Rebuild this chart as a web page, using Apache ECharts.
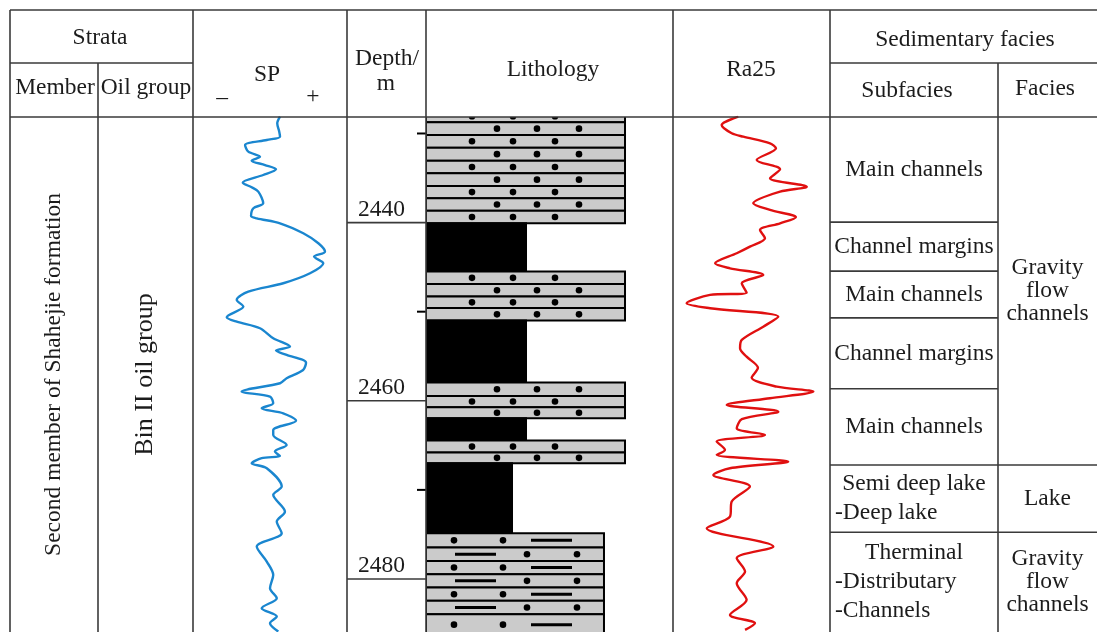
<!DOCTYPE html>
<html><head><meta charset="utf-8">
<script src="https://cdn.jsdelivr.net/npm/echarts@6/dist/echarts.min.js"></script>
<style>html,body{margin:0;padding:0;background:#fff}#c{width:1097px;height:632px}</style>
</head><body><div id="c"></div>
<script>
// ---------------- data ----------------
const depthMin = 2428.15, depthMax = 2485.95;
const depthLabels = [2440, 2460, 2480];
const depthMinorTicks = [2430, 2450, 2470];

const spDepth = [2428.12, 2428.86, 2429.80, 2430.36, 2430.73, 2431.29, 2432.04, 2432.60, 2433.05, 2433.54, 2434.02, 2434.66, 2435.52, 2436.04, 2436.53, 2437.83, 2438.39, 2439.26, 2439.52, 2440.08, 2441.20, 2442.32, 2443.26, 2443.82, 2444.57, 2445.69, 2446.81, 2447.75, 2448.68, 2449.43, 2450.62, 2451.12, 2451.86, 2452.98, 2453.92, 2454.37, 2454.85, 2455.72, 2456.54, 2457.47, 2458.03, 2458.97, 2459.53, 2460.27, 2460.83, 2461.40, 2462.23, 2463.27, 2463.83, 2464.95, 2465.70, 2466.19, 2466.44, 2467.01, 2467.57, 2469.63, 2470.56, 2472.44, 2473.56, 2474.86, 2476.36, 2478.05, 2479.54, 2481.03, 2482.15, 2483.28, 2484.22, 2484.96, 2485.90];
const spValue = [56.5, 54.7, 56.0, 56.5, 47.9, 33.8, 35.9, 43.5, 38.1, 46.8, 53.9, 45.6, 32.3, 38.1, 42.4, 45.6, 39.2, 37.7, 41.4, 56.5, 71.6, 81.4, 85.7, 78.6, 84.6, 76.0, 58.6, 35.9, 28.4, 32.7, 21.9, 28.4, 43.5, 52.1, 63.0, 53.9, 60.8, 73.4, 71.5, 60.8, 56.5, 31.6, 50.0, 52.1, 44.6, 58.6, 66.9, 52.1, 52.1, 60.8, 53.2, 56.5, 44.6, 38.1, 47.9, 57.6, 52.1, 59.7, 54.4, 57.6, 41.4, 47.9, 52.1, 50.0, 54.4, 44.6, 54.4, 50.0, 55.4];

const raDepth = [2428.12, 2429.05, 2429.98, 2430.36, 2431.10, 2431.66, 2432.97, 2434.02, 2435.03, 2435.97, 2436.53, 2437.83, 2438.58, 2439.40, 2440.08, 2440.83, 2441.76, 2442.70, 2443.44, 2444.57, 2445.13, 2445.88, 2446.81, 2447.86, 2448.12, 2449.05, 2449.61, 2450.56, 2451.68, 2453.17, 2454.10, 2455.05, 2456.30, 2457.40, 2458.41, 2458.97, 2459.71, 2460.46, 2461.22, 2462.07, 2463.08, 2463.83, 2464.58, 2465.51, 2466.07, 2466.83, 2467.57, 2468.32, 2469.63, 2471.31, 2473.00, 2474.30, 2476.36, 2477.67, 2479.17, 2480.47, 2482.34, 2484.03, 2484.96, 2485.71];
const raValue = [41.6, 31.0, 37.4, 44.8, 61.8, 65.6, 53.3, 68.2, 61.8, 85.2, 68.2, 51.1, 61.8, 78.3, 68.2, 55.4, 58.6, 49.0, 40.6, 26.8, 36.3, 57.5, 43.8, 46.9, 23.6, 8.7, 23.6, 67.1, 57.5, 43.8, 42.7, 46.9, 54.1, 50.1, 66.1, 89.4, 61.8, 34.2, 67.1, 43.8, 40.6, 58.6, 27.8, 33.1, 27.8, 73.4, 36.3, 25.7, 49.0, 37.4, 36.3, 21.5, 63.9, 40.6, 45.9, 40.6, 46.9, 36.3, 52.2, 45.9];

const lithoTop  = [2427.40, 2428.74, 2430.17, 2431.59, 2433.05, 2434.47, 2435.89, 2437.27, 2438.66, 2440.08, 2445.50, 2446.90, 2448.30, 2449.60, 2451.00, 2457.96, 2459.45, 2460.72, 2461.96, 2464.47, 2465.81, 2467.00, 2474.86, 2476.47, 2477.97, 2479.46, 2480.96, 2482.45, 2483.95];
const lithoBase = [2428.74, 2430.17, 2431.59, 2433.05, 2434.47, 2435.89, 2437.27, 2438.66, 2440.08, 2445.50, 2446.90, 2448.30, 2449.60, 2451.00, 2457.96, 2459.45, 2460.72, 2461.96, 2464.47, 2465.81, 2467.00, 2474.86, 2476.47, 2477.97, 2479.46, 2480.96, 2482.45, 2483.95, 2486.30];
const lithoKind = ['sandstone','sandstone','sandstone','sandstone','sandstone','sandstone','sandstone','sandstone','sandstone','mudstone','sandstone','sandstone','sandstone','sandstone','mudstone','sandstone','sandstone','sandstone','mudstone','sandstone','sandstone','shale','siltstone','siltstone','siltstone','siltstone','siltstone','siltstone','siltstone'];
const lithoTexture = [1,0,1,0,1,0,1,0,1, 0, 1,0,1,0, 0, 0,1,0, 0, 1,0, 0, 0,1,0,1,0,1,0];

const subfaciesName = ['Main channels', 'Channel margins', 'Main channels', 'Channel margins', 'Main channels', 'Semi deep lake\n-Deep lake', 'Therminal\n-Distributary\n-Channels'];
const subfaciesTop  = [2428.15, 2439.95, 2445.45, 2450.70, 2458.65, 2467.20, 2474.75];
const subfaciesBase = [2439.95, 2445.45, 2450.70, 2458.65, 2467.20, 2474.75, 2490.00];

const faciesName = ['Gravity\nflow\nchannels', 'Lake', 'Gravity\nflow\nchannels'];
const faciesTop  = [2428.15, 2467.20, 2474.75];
const faciesBase = [2467.20, 2474.75, 2490.00];

const memberName = ['Second member of Shahejie formation'];
const memberTop = [2428.15], memberBase = [2490.00];
const oilGroupName = ['Bin II oil group'];
const oilGroupTop = [2428.15], oilGroupBase = [2490.00];

// ---------------- styles ----------------
const FAMILY = '"Liberation Serif", "Times New Roman", serif';
const FONT = '23.5px ' + FAMILY;
const TXT = '#1c1c1c';
const LINE = '#3a3a3a';
const LITHO_STYLE = {
  sandstone: { grain: 80.57, fill: '#cbcbcb', marks: [[{dot:71},{dot:111},{dot:153}], [{dot:46},{dot:87},{dot:129}]] },
  mudstone:  { grain: 40.49, fill: '#000', marks: [[],[]] },
  shale:     { grain: 34.82, fill: '#000', marks: [[],[]] },
  siltstone: { grain: 72.06, fill: '#cbcbcb', marks: [[{dot:28},{dot:77},{dash:[105,146]}], [{dash:[29,70]},{dot:101},{dot:151}]] }
};

function textStyle(text, x, y, align, valign, font) {
  return { text, x, y, font: font || FONT, fill: TXT, textAlign: align, align: align, textVerticalAlign: valign, verticalAlign: valign };
}

function intervalRenderer(names, tops, bases, lineHeight, rotate, font) {
  return function (params, api) {
    const i = params.dataIndex, cs = params.coordSys;
    const t = Math.max(tops[i], depthMin), b = Math.min(bases[i], depthMax);
    const y0 = api.coord([0, t])[1], y1 = api.coord([0, b])[1];
    const children = [];
    if (bases[i] < depthMax) {
      const yb = api.coord([0, bases[i]])[1];
      children.push({ type: 'line', shape: { x1: cs.x, y1: yb, x2: cs.x + cs.width, y2: yb }, style: { stroke: LINE, lineWidth: 1.6 } });
    }
    const cy = (y0 + y1) / 2, cx = cs.x + cs.width / 2;
    if (rotate) {
      children.push({ type: 'text', x: cx, y: cy, rotation: Math.PI / 2, style: textStyle(names[i], 0, 0, 'center', 'middle', font) });
    } else {
      const lines = names[i].split('\n');
      lines.forEach(function (ln, k) {
        const y = cy + (k - (lines.length - 1) / 2) * lineHeight;
        const left = ln.charAt(0) === '-';
        children.push({ type: 'text', style: textStyle(ln, left ? cs.x + 5 : cx, y, left ? 'left' : 'center', 'middle', font) });
      });
    }
    return { type: 'group', children };
  };
}

function renderLitho(params, api) {
  const i = params.dataIndex;
  const st = LITHO_STYLE[lithoKind[i]];
  const p0 = api.coord([0, lithoTop[i]]);
  const p1 = api.coord([st.grain, lithoBase[i]]);
  const children = [{ type: 'rect', shape: { x: p0[0], y: p0[1], width: p1[0] - p0[0], height: p1[1] - p0[1] },
    style: { fill: st.fill, stroke: '#000', lineWidth: 2 } }];
  const cy = (p0[1] + p1[1]) / 2;
  st.marks[lithoTexture[i]].forEach(function (m) {
    if (m.dot !== undefined) children.push({ type: 'circle', shape: { cx: p0[0] + m.dot, cy, r: 3.3 }, style: { fill: '#000' } });
    else children.push({ type: 'line', shape: { x1: p0[0] + m.dash[0], y1: cy, x2: p0[0] + m.dash[1], y2: cy }, style: { stroke: '#000', lineWidth: 3 } });
  });
  return { type: 'group', children };
}

function renderDepthLabel(params, api) {
  const cs = params.coordSys, v = depthLabels[params.dataIndex];
  const y = api.coord([0, v])[1];
  return { type: 'group', children: [
    { type: 'line', shape: { x1: cs.x, y1: y, x2: cs.x + cs.width, y2: y }, style: { stroke: LINE, lineWidth: 1.6 } },
    { type: 'text', style: textStyle(String(v), cs.x + 34.5, y - 1, 'center', 'bottom') }
  ] };
}

function renderMinorTick(params, api) {
  const cs = params.coordSys;
  const y = api.coord([0, depthMinorTicks[params.dataIndex]])[1];
  return { type: 'line', shape: { x1: cs.x + cs.width - 9, y1: y, x2: cs.x + cs.width, y2: y }, style: { stroke: '#000', lineWidth: 2 } };
}

// ---------------- layout ----------------
const cols = [[10, 88], [98, 95], [193, 154], [347, 79], [426, 247], [673, 157], [830, 168], [998, 99]];
const grids = cols.map(c => ({ left: c[0], width: c[1], top: 117, height: 515 }));
const xAxes = cols.map((c, i) => ({ gridIndex: i, type: 'value', min: 0, max: 100, show: false }));
const yAxes = cols.map((c, i) => ({ gridIndex: i, type: 'value', inverse: true, min: depthMin, max: depthMax, show: false }));

function ivData(tops, bases) { return tops.map((t, i) => [0, t, bases[i]]); }
function custom(idx, data, renderItem, extra) {
  return Object.assign({ type: 'custom', xAxisIndex: idx, yAxisIndex: idx, data, renderItem, encode: { x: 0, y: [1, 2] }, silent: true }, extra || {});
}

const L = (x1, y1, x2, y2) => ({ type: 'line', shape: { x1, y1, x2, y2 }, style: { stroke: LINE, lineWidth: 1.6 }, z: 100 });
const T = (text, x, y, align) => ({ type: 'text', x, y, style: textStyle(text, 0, 0, align || 'center', 'middle'), z: 100 });

const graphic = [
  L(10, 10, 1097, 10), L(10, 63, 193, 63), L(830, 63, 1097, 63), L(10, 117, 1097, 117),
  L(10, 10, 10, 632), L(98, 63, 98, 632), L(193, 10, 193, 632), L(347, 10, 347, 632),
  L(426, 10, 426, 632), L(673, 10, 673, 632), L(830, 10, 830, 632), L(998, 63, 998, 632),
  T('Strata', 100, 38), T('Member', 55, 88), T('Oil group', 146, 88),
  T('SP', 267, 75), T('\u2013', 222, 98), T('+', 313, 97),
  T('Depth/', 387, 59), T('m', 386, 83.5),
  T('Lithology', 553, 70), T('Ra25', 751, 70),
  T('Sedimentary facies', 965, 40), T('Subfacies', 907, 91), T('Facies', 1045, 89)
];

const chart = echarts.init(document.getElementById('c'), null, { renderer: 'canvas' });
chart.setOption({
  animation: false,
  backgroundColor: '#fff',
  grid: grids, xAxis: xAxes, yAxis: yAxes,
  graphic: graphic,
  series: [
    custom(0, ivData(memberTop, memberBase), intervalRenderer(memberName, memberTop, memberBase, 0, true)),
    custom(1, ivData(oilGroupTop, oilGroupBase), intervalRenderer(oilGroupName, oilGroupTop, oilGroupBase, 0, true, '26px ' + FAMILY)),
    { type: 'line', xAxisIndex: 2, yAxisIndex: 2, data: spDepth.map((d, i) => [spValue[i], d]), symbol: 'none', smooth: 0.3,
      lineStyle: { color: '#1a86cf', width: 2.4 }, silent: true },
    custom(3, depthLabels.map(d => [0, d, d]), renderDepthLabel),
    custom(3, depthMinorTicks.map(d => [0, d, d]), renderMinorTick),
    custom(4, ivData(lithoTop, lithoBase), renderLitho, { clip: true }),
    { type: 'line', xAxisIndex: 5, yAxisIndex: 5, data: raDepth.map((d, i) => [raValue[i], d]), symbol: 'none', smooth: 0.3,
      lineStyle: { color: '#e01010', width: 2.4 }, silent: true },
    custom(6, ivData(subfaciesTop, subfaciesBase), intervalRenderer(subfaciesName, subfaciesTop, subfaciesBase, 29, false)),
    custom(7, ivData(faciesTop, faciesBase), intervalRenderer(faciesName, faciesTop, faciesBase, 23, false))
  ]
});
</script>
</body></html>
